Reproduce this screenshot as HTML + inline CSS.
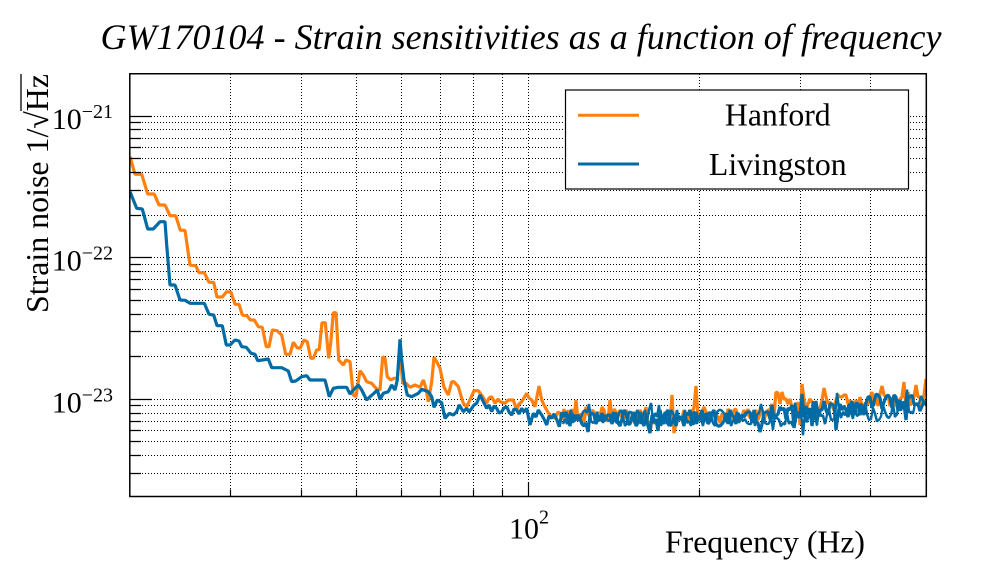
<!DOCTYPE html>
<html>
<head>
<meta charset="utf-8">
<style>
html,body{margin:0;padding:0;background:#fff;}
svg{display:block;}
text{font-family:"Liberation Serif","DejaVu Serif",serif;fill:#000;}
</style>
</head>
<body>
<svg width="996" height="572" viewBox="0 0 996 572" xmlns="http://www.w3.org/2000/svg" xmlns:xlink="http://www.w3.org/1999/xlink">
<rect x="0" y="0" width="996" height="572" fill="#fff"/>
<defs>
<clipPath id="pa"><rect x="129.8" y="73.7" width="796.6" height="423"/></clipPath>
<clipPath id="c1"><rect x="562" y="73.7" width="204" height="423"/></clipPath>
<clipPath id="c2"><rect x="766" y="73.7" width="160.4" height="423"/></clipPath>
<polyline id="bhf" fill="none" stroke="#006BA4" points="562,412 564,417 566,412 568,419 570,426 572,413 574,421 576,419 578,415 580,419 582,424 584,426 586,423 588,432 590,415 592,413 594,415 596,424 598,417 600,421 602,413 604,421 606,417 608,415 610,415 612,424 614,415 616,413 618,423 620,426 622,419 624,410 626,413 628,424 630,424 632,417 634,412 636,426 638,423 640,412 642,421 644,426 646,415 648,426 650,433 652,415 654,423 656,419 658,431 660,410 662,419 664,424 666,413 668,410 670,426 672,423 674,417 676,426 678,417 680,417 682,419 684,426 686,413 688,415 690,410 692,423 694,424 696,412 698,421 700,417 702,410 704,421 706,413 708,424 710,421 712,413 714,410 716,424 718,426 720,426 722,424 724,421 726,413 728,424 730,410 732,415 734,417 736,424 738,413 740,419 742,415 744,417 746,413 748,412 750,412 752,423 754,410 756,421 758,423 760,432 762,424 764,413 766,412 768,412 770,419 772,405 774,419 776,416 778,414 780,407 782,410 784,408 786,419 788,408 790,410 792,405 794,428 796,416 798,412 800,418 802,394 804,417 806,406 808,415 810,408 812,426 814,412 816,401 818,417 820,410 822,410 824,401 826,410 828,415 830,404 832,404 834,406 836,430 838,414 840,404 842,410 844,406 846,410 848,417 850,408 852,401 854,415 856,403 858,404 860,415 862,408 864,415 866,403 868,397 870,397 872,408 874,402 876,394 878,395 880,398 882,409 884,402 886,397 888,395 890,398 892,408 894,395 896,397 898,411 900,400 902,409 904,404 906,420 908,397 910,397 912,395 914,404 916,404 918,404 920,411 922,406 924,402 926,402"/>
</defs>

<!-- Title -->
<text x="521" y="49" font-style="italic" font-size="36" text-anchor="middle" textLength="841" lengthAdjust="spacingAndGlyphs">GW170104 - Strain sensitivities as a function of frequency</text>

<!-- Grid -->
<g stroke="#000" stroke-width="1" stroke-dasharray="1,2" fill="none" shape-rendering="crispEdges">
<path d="M230.5,74V496 M301.5,74V496 M356.5,74V496 M401.5,74V496 M440.5,74V496 M473.5,74V496 M502.5,74V496 M528.5,74V496 M699.5,74V496 M800.5,74V496 M870.5,74V496"/>
<path d="M130,473.5H926 M130,455.5H926 M130,441.5H926 M130,430.5H926 M130,421.5H926 M130,413.5H926 M130,405.5H926 M130,399.5H926 M130,356.5H926 M130,331.5H926 M130,314.5H926 M130,300.5H926 M130,289.5H926 M130,279.5H926 M130,271.5H926 M130,264.5H926 M130,257.5H926 M130,215.5H926 M130,190.5H926 M130,172.5H926 M130,158.5H926 M130,147.5H926 M130,138.5H926 M130,129.5H926 M130,122.5H926 M130,116.5H926"/>
</g>

<!-- Data -->
<g clip-path="url(#pa)" fill="none" stroke-width="3.2" stroke-linejoin="bevel">
<polyline stroke="#FF800E" points="130,156.7 135,174.3 141.7,174.3 147.7,194 154.3,194 159,205 165,205 170,215.7 175.7,215.7 180.3,230.3 185,230.3 190,265 195.7,265.7 199,272.7 204.3,272.7 209,282.3 213.7,282.3 217,297 222.3,297 226.7,291.7 231,292.3 235,304.3 239,304.3 242.3,315 247,315.7 250.3,320 254.3,320 258.3,326.7 262.3,327.3 266.3,346.7 269,346.7 272.3,330 277,330.7 281.7,335 285.7,354.3 290,354.3 293.3,342.3 297,347.7 300,348.3 304,340 307.3,341.7 310.7,358.3 313.3,358.3 316.7,350 319.3,349.3 322,322.7 325.3,322.7 328.7,358.3 330.7,343.3 333.3,312.7 336,312.7 338.7,360 343.3,365 346,360 350,361.7 353.3,395 356,396.7 360,370.7 363.3,375 366.7,381.7 371.7,383.3 376,388.3 380,390 382.7,356.7 385,358.3 387.3,376.7 390.7,380 394,378.3 397.3,378.3 400,351.7 402.7,383.3 406,383.3 410,387.3 415,385 420,387.3 423.3,380 426,388.3 428.3,401.7 431.7,381.7 434,357.3 436.7,361.7 440,368.3 444,387.3 448.3,395 451.7,381.7 454,381.7 458.3,386.7 463.3,403.3 466.7,406.7 470.7,398.3 474,390.7 478.3,390.7 482.7,396.7 486.7,403.3 489,398 491.7,396.7 495,403.3 498,399 500,401.7 505,403.3 508.3,400 513.3,400 516.7,410 519,404 521.7,401.7 526.7,393.3 529,398 531.7,400 535,406.7 539,386 541.7,400 544,405 546.7,410 549,414 551.7,416.7 555,418.3 558,412 560,413.3 562,420 564,409 566,421 568,410 570,421 572,409 574,421 576,400 578,421 580,414 582,416 584,423 586,407 588,414 590,416 592,410 594,412 596,416 598,412 600,418 602,407 604,410 606,421 608,420 610,400 612,420 614,409 616,412 618,416 620,410 622,418 624,418 626,410 628,414 630,423 632,420 634,420 636,416 638,420 640,410 642,414 644,420 646,407 648,423 650,433 652,418 654,423 656,423 658,423 660,416 662,423 664,416 666,420 668,414 670,423 672,395 674,433 676,423 678,418 680,420 682,418 684,410 686,420 688,420 690,410 692,414 694,407 696,386 698,418 700,418 702,412 704,407 706,412 708,416 710,412 712,416 714,414 716,420 718,416 720,423 722,414 724,416 726,420 728,409 730,412 732,421 734,410 736,409 738,420 740,421 742,416 744,410 746,416 748,409 750,418 752,418 754,414 756,410 758,420 760,414 762,410 764,420 766,414 768,410 770,410 772,404 774,415 776,392 778,393 780,404 782,392 784,399 786,399 788,404 790,399 792,408 794,415 796,415 798,402 800,425 802,384 804,399 806,410 808,404 810,399 812,402 814,406 816,413 818,408 820,408 822,400 824,388 826,397 828,404 830,402 832,406 834,410 836,400 838,395 840,397 842,397 844,395 846,395 848,404 850,400 852,413 854,406 856,400 858,408 860,397 862,406 864,413 866,406 868,403 870,397 872,392 874,405 876,397 878,406 880,394 882,386 884,395 886,397 888,395 890,406 892,403 894,395 896,405 898,408 900,399 902,397 904,382 906,408 908,392 910,405 912,403 914,397 916,385 918,397 920,397 922,406 924,395 926,379"/>
<polyline stroke="#006BA4" points="130,191.7 136.7,208.3 142.3,209 147.7,229 153.3,229 160,221.7 165,221.7 166.7,245 170,285 175,285 180,300 185,300.3 190,303.3 204.3,303.3 209,314.3 213.7,315 217,325.7 222.3,325.7 226.3,345 230,345 235,340 239,341 241.7,346.7 246.3,347.3 251,353.3 255,354.3 257.7,360.7 262.3,360 268.3,359 271.7,367.7 281.7,367.7 288.3,371 291.7,381.7 295.7,381 301.7,376.7 306.7,375.7 310,380 325,380 329.3,396.7 333.3,388.3 338.3,387.3 346.7,387.3 350,394 353.3,390 358.3,385 361.7,390 366.7,400 370,396.7 374,393.3 377.3,390 380,399.3 383.3,393.3 388.3,391.7 391.7,385 395,390 397.3,380 400,339.3 401.7,360 404,380 407.3,395 411.7,396.7 418.3,393.3 421.7,389.3 428.3,391.7 431.7,396.7 434,407.3 437.3,400 441.7,402.7 445,418.3 449.3,413.3 453.3,415 456.7,411.7 459.3,405 463.3,411.7 466.7,408.3 469,412 471.7,408.3 474,405 476.7,403.3 480,395 483.3,401.7 486.7,408.3 489,405 491.7,411.7 494,406 496.7,408.3 499,413 501.7,411.7 504,408 506.7,406.7 509,412 511.7,415 514,409 516.7,410 519,414 521.7,408.3 524,412 526.7,408.3 530,425 533.3,413.3 536,417 538.3,410 541.7,415 544,419 546.7,425 549,416 551.7,418.3 554,414 556.7,419.3 559.3,426.7 562,412"/>
<use xlink:href="#bhf" href="#bhf"/>
<g clip-path="url(#c1)"><use xlink:href="#bhf" href="#bhf" stroke-width="2.4" transform="matrix(1,0,0,-1,1,836)"/></g>
<g clip-path="url(#c2)"><use xlink:href="#bhf" href="#bhf" stroke-width="2.4" transform="matrix(1,-0.188,0,-1,1,980)"/></g>
</g>

<!-- Ticks -->
<g stroke="#000" stroke-width="1.2" fill="none">
<path d="M129.8,116.5H152 M129.8,257.5H152 M129.8,399.5H152"/>
<path d="M129.8,473.5H141 M129.8,455.5H141 M129.8,441.5H141 M129.8,430.5H141 M129.8,421.5H141 M129.8,413.5H141 M129.8,405.5H141 M129.8,356.5H141 M129.8,331.5H141 M129.8,314.5H141 M129.8,300.5H141 M129.8,289.5H141 M129.8,279.5H141 M129.8,271.5H141 M129.8,264.5H141 M129.8,215.5H141 M129.8,190.5H141 M129.8,172.5H141 M129.8,158.5H141 M129.8,147.5H141 M129.8,138.5H141 M129.8,129.5H141 M129.8,122.5H141"/>
<path d="M230.5,496.5V489.5 M301.5,496.5V489.5 M356.5,496.5V489.5 M401.5,496.5V489.5 M440.5,496.5V489.5 M473.5,496.5V489.5 M502.5,496.5V489.5 M699.5,496.5V489.5 M800.5,496.5V489.5 M870.5,496.5V489.5"/>
<path d="M528.5,496.5V482.5"/>
</g>

<!-- Frame -->
<rect x="129.8" y="73.75" width="796.5" height="422.75" fill="none" stroke="#000" stroke-width="1.5"/>

<!-- Y tick labels -->
<text x="113" y="129" text-anchor="end" font-size="30">10<tspan font-size="20" dy="-11">−21</tspan></text>
<text x="113" y="270.5" text-anchor="end" font-size="30">10<tspan font-size="20" dy="-11">−22</tspan></text>
<text x="113" y="412.5" text-anchor="end" font-size="30">10<tspan font-size="20" dy="-11">−23</tspan></text>

<!-- X tick label -->
<text x="529" y="538.3" text-anchor="middle" font-size="30">10<tspan font-size="20" dy="-15">2</tspan></text>

<!-- Axis titles -->
<text x="865" y="552.7" text-anchor="end" font-size="31.5" textLength="200" lengthAdjust="spacingAndGlyphs">Frequency (Hz)</text>
<text transform="translate(48,74) rotate(-90)" x="0" y="0" text-anchor="end" font-size="31.5" textLength="239" lengthAdjust="spacingAndGlyphs">Strain noise 1/√Hz</text>
<line x1="21" y1="74" x2="21" y2="111" stroke="#000" stroke-width="1.3"/>

<!-- Legend -->
<rect x="565.5" y="90" width="343" height="99" fill="#fff" stroke="#000" stroke-width="1.2"/>
<line x1="578" y1="115.3" x2="639" y2="115.3" stroke="#FF800E" stroke-width="3"/>
<line x1="578" y1="164" x2="639" y2="164" stroke="#006BA4" stroke-width="3"/>
<text x="777.8" y="125.7" text-anchor="middle" font-size="31.5" textLength="105.7" lengthAdjust="spacingAndGlyphs">Hanford</text>
<text x="777.8" y="175" text-anchor="middle" font-size="31.5" textLength="137.7" lengthAdjust="spacingAndGlyphs">Livingston</text>
</svg>
</body>
</html>
